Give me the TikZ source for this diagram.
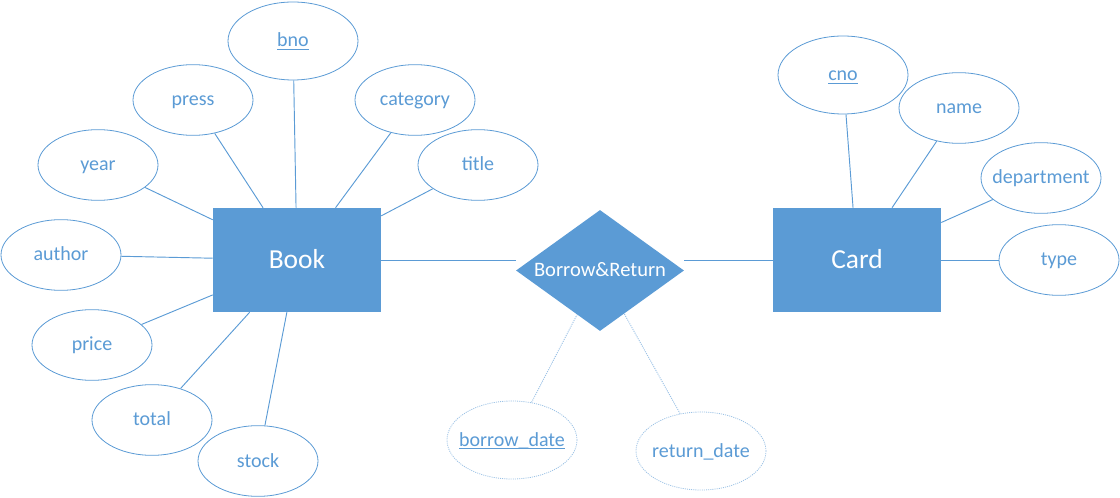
\documentclass[tikz,border=0pt]{standalone}
\usepackage{fontspec}
\setmainfont{Carlito}
\usepackage{tikz}
\usetikzlibrary{shapes.geometric,backgrounds}
\definecolor{erBlue}{HTML}{5B9BD5}
\definecolor{erPale}{HTML}{9DC3E6}
\newcommand{\keyattr}[1]{\underline{\smash{#1}}}

\begin{document}
\begin{tikzpicture}[x=0.75pt,y=-0.75pt,
        entity/.style={fill=erBlue,text=white,inner sep=0pt,minimum width=126pt,minimum height=78pt,text height=16pt,text depth=3.6pt,font=\fontsize{20.6}{24}\selectfont},
        relation/.style={diamond,fill=erBlue,text=white,aspect=1.39,inner sep=0pt,minimum width=126pt,minimum height=90.75pt,text height=12pt,text depth=3pt,font=\fontsize{15.4}{18}\selectfont},
        attr/.style={ellipse,draw=erBlue,line width=0.6pt,fill=white,text=erBlue,inner ysep=0pt,inner xsep=-25pt,minimum width=90pt,minimum height=53pt,text height=12pt,text depth=3pt,font=\fontsize{15}{18}\selectfont},
        bigattr/.style={attr,minimum width=97.5pt,minimum height=58.5pt},
        dotattr/.style={bigattr,draw=erPale,dash pattern=on 0.8pt off 0.8pt},
        link/.style={draw=erBlue,line width=0.7pt},
        dotlink/.style={draw=erPale,line width=0.7pt,dash pattern=on 0.8pt off 0.8pt}]
    \useasboundingbox (0,0) rectangle (1120,498);
    % entities and relation
    \node[entity] (book) at (297,260) {Book};
    \node[entity] (card) at (857,260) {Card};
    \node[relation] (rel) at (600,270.5) {Borrow\&Return};
    % Book attributes
    \node[bigattr] (bno) at (293,41) {\keyattr{bno}};
    \node[attr] (press) at (193,100) {press};
    \node[attr] (category) at (415,100) {category};
    \node[attr] (year) at (98,165) {year};
    \node[attr] (title) at (478,165) {title};
    \node[attr] (author) at (61,255) {author};
    \node[attr] (price) at (92,345) {price};
    \node[attr] (total) at (152,420) {total};
    \node[attr] (stock) at (258,461) {stock};
    % Card attributes
    \node[bigattr] (cno) at (843,75) {\keyattr{cno}};
    \node[attr] (cname) at (959,108) {name};
    \node[attr] (dept) at (1041,178) {department};
    \node[attr] (ctype) at (1059,260) {type};
    % relation attributes
    \node[dotattr] (bdate) at (512,440) {\keyattr{borrow\_date}};
    \node[dotattr] (rdate) at (701,451) {return\_date};
    \begin{scope}[on background layer]
        \foreach \a in {bno,press,category,year,title,author,price,total,stock}
            \draw[link] (\a) -- (book);
        \foreach \a in {cno,cname,dept,ctype}
            \draw[link] (\a) -- (card);
        \draw[link] (book.east) -- (book.east -| rel.west);
        \draw[link] (card.west) -- (card.west -| rel.east);
        \draw[dotlink] (bdate) -- (rel);
        \draw[dotlink] (rdate) -- (rel);
    \end{scope}
\end{tikzpicture}
\end{document}
